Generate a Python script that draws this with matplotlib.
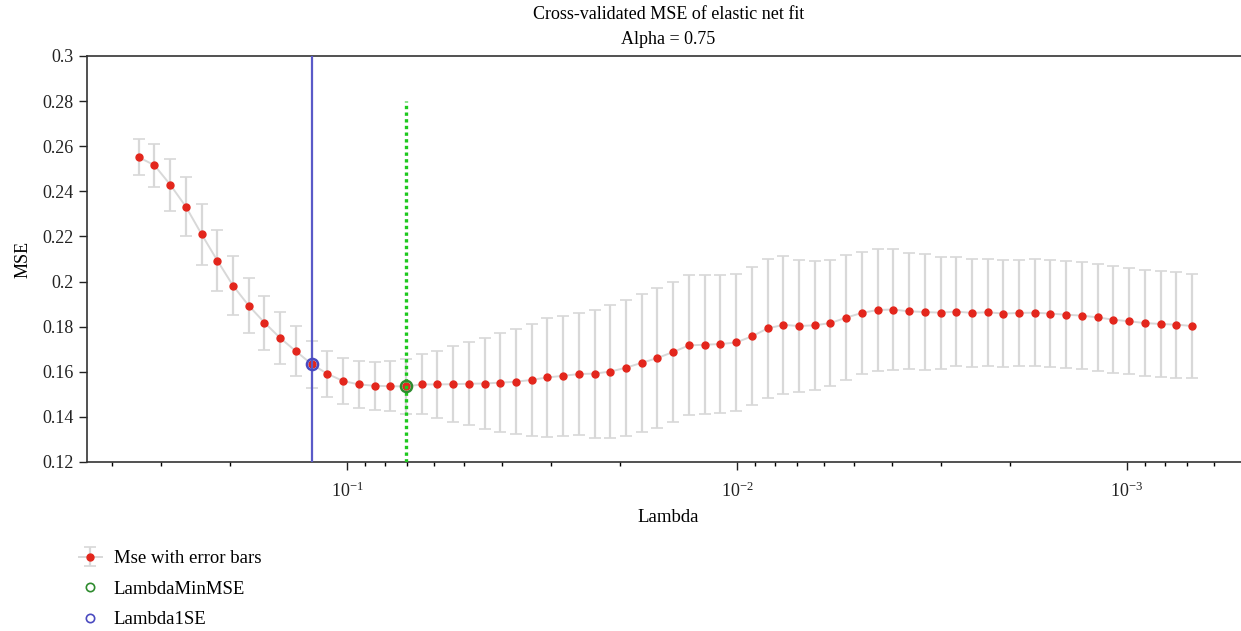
import numpy as np
import matplotlib
matplotlib.use("Agg")
import matplotlib.pyplot as plt
from matplotlib.lines import Line2D

plt.rcParams['font.family'] = ['Liberation Serif', 'DejaVu Serif']
plt.rcParams['mathtext.fontset'] = 'custom'
plt.rcParams['mathtext.rm'] = 'Liberation Serif'
plt.rcParams['mathtext.it'] = 'Liberation Serif:italic'

# lambda values (decreasing)
lambdas = [0.3420, 0.3118, 0.2841, 0.2589, 0.2360, 0.2150, 0.1960, 0.1786,
           0.1628, 0.1484, 0.1352, 0.1232, 0.1123, 0.1023, 0.09328, 0.08501,
           0.07748, 0.07061, 0.06434, 0.05864, 0.05344, 0.04870, 0.04439, 0.04046,
           0.03687, 0.03360, 0.03062, 0.02791, 0.02543, 0.02318, 0.02112, 0.01925,
           0.01754, 0.01599, 0.01457, 0.01328, 0.01210, 0.01103, 0.01005, 0.009163,
           0.008350, 0.007610, 0.006936, 0.006321, 0.005760, 0.005249, 0.004784, 0.004360,
           0.003973, 0.003621, 0.003300, 0.003007, 0.002742, 0.002498, 0.002277, 0.002075,
           0.001891, 0.001723, 0.001571, 0.001432, 0.001305, 0.001189, 0.001084, 0.0009877,
           0.0009000, 0.0008202, 0.0007475, 0.0006813]

mse = [0.2551, 0.2516, 0.2430, 0.2332, 0.2210, 0.2093, 0.1982, 0.1893,
       0.1818, 0.1750, 0.1691, 0.1634, 0.1591, 0.1559, 0.1544, 0.1538,
       0.1536, 0.1535, 0.1544, 0.1544, 0.1545, 0.1547, 0.1548, 0.1552,
       0.1556, 0.1564, 0.1575, 0.1582, 0.1590, 0.1592, 0.1601, 0.1618,
       0.1640, 0.1661, 0.1688, 0.1717, 0.1720, 0.1723, 0.1730, 0.1757,
       0.1792, 0.1808, 0.1803, 0.1806, 0.1816, 0.1840, 0.1861, 0.1874,
       0.1876, 0.1868, 0.1865, 0.1862, 0.1867, 0.1861, 0.1864, 0.1858,
       0.1861, 0.1862, 0.1858, 0.1853, 0.1849, 0.1841, 0.1831, 0.1824,
       0.1816, 0.1812, 0.1809, 0.1803]

se = [0.0080, 0.0096, 0.0115, 0.0132, 0.0135, 0.0136, 0.0130, 0.0121,
      0.0120, 0.0115, 0.0110, 0.0104, 0.0101, 0.0101, 0.0104, 0.0107,
      0.0112, 0.0122, 0.0133, 0.0150, 0.0168, 0.0185, 0.0200, 0.0218,
      0.0233, 0.0250, 0.0262, 0.0267, 0.0272, 0.0284, 0.0296, 0.0302,
      0.0307, 0.0311, 0.0311, 0.0310, 0.0308, 0.0306, 0.0303, 0.0306,
      0.0309, 0.0307, 0.0294, 0.0285, 0.0279, 0.0278, 0.0272, 0.0270,
      0.0267, 0.0257, 0.0256, 0.0248, 0.0243, 0.0240, 0.0238, 0.0238,
      0.0236, 0.0236, 0.0238, 0.0236, 0.0237, 0.0236, 0.0236, 0.0236,
      0.0236, 0.0236, 0.0235, 0.0232]

idx_min = 17   # LambdaMinMSE
idx_1se = 11   # Lambda1SE

fig = plt.figure(figsize=(12.41, 6.31), dpi=100)
ax = fig.add_axes([87 / 1241, 169 / 631, 1163 / 1241, 406 / 631])

gray = '#d8d8d8'
red = '#e3261c'

eb = ax.errorbar(lambdas, mse, yerr=se, fmt='o', color=gray, ecolor=gray,
                 elinewidth=1.6, capsize=4, capthick=1.2, lw=1.4, ls='-',
                 markerfacecolor=red, markeredgecolor=red, markersize=5,
                 zorder=2)

ax.plot([lambdas[idx_1se]] * 2, [0.12, 0.30], color='#5a5ac8', lw=1.6, zorder=3)
ax.plot([lambdas[idx_min]] * 2, [0.12, 0.28], color='#1ec81e', lw=2.4,
        ls=(0, (1, 1)), zorder=3)
ax.plot(lambdas[idx_1se], mse[idx_1se], 'o', ms=8, mfc='none',
        mec='#4a4ac0', mew=1.8, zorder=4)
ax.plot(lambdas[idx_min], mse[idx_min], 'o', ms=8, mfc='none',
        mec='#2e8b2e', mew=1.8, zorder=4)

ax.set_xscale('log')
ax.set_xlim(10 ** (-1 + 260 / 390), 10 ** (-3 - 123 / 390))
ax.set_ylim(0.12, 0.30)
ax.set_yticks([0.12, 0.14, 0.16, 0.18, 0.2, 0.22, 0.24, 0.26, 0.28, 0.3])
ax.set_yticklabels(['0.12', '0.14', '0.16', '0.18', '0.2', '0.22', '0.24',
                    '0.26', '0.28', '0.3'])

ax.spines['right'].set_visible(False)
for s in ['left', 'bottom', 'top']:
    ax.spines[s].set_color('#333333')
    ax.spines[s].set_linewidth(1.2)

ax.tick_params(axis='both', which='major', direction='out', length=6,
               width=1, labelsize=13, colors='#222222')
ax.tick_params(axis='x', which='minor', direction='out', length=3, width=1)
ax.tick_params(axis='x', which='major', pad=8)
ax.tick_params(top=False, which='both')

ax.set_xlabel('Lambda', fontsize=13.5, labelpad=6)
ax.set_ylabel('MSE', fontsize=13, labelpad=8)
ax.set_title('Cross-validated MSE of elastic net fit\nAlpha = 0.75',
             fontsize=13, pad=9, linespacing=1.55)

handles = [eb,
           Line2D([], [], ls='none', marker='o', ms=6, mfc='none',
                  mec='#2e8b2e', mew=1.2),
           Line2D([], [], ls='none', marker='o', ms=6, mfc='none',
                  mec='#4a4ac0', mew=1.2)]
labels = ['Mse with error bars', 'LambdaMinMSE', 'Lambda1SE']
fig.legend(handles, labels, loc='upper left',
           bbox_to_anchor=(79 / 1241, 1 - 550 / 631), frameon=False,
           fontsize=13.5, handlelength=1.2, handletextpad=0.65,
           labelspacing=0.72, borderpad=0, borderaxespad=0)

fig.savefig('out.png', dpi=100)
